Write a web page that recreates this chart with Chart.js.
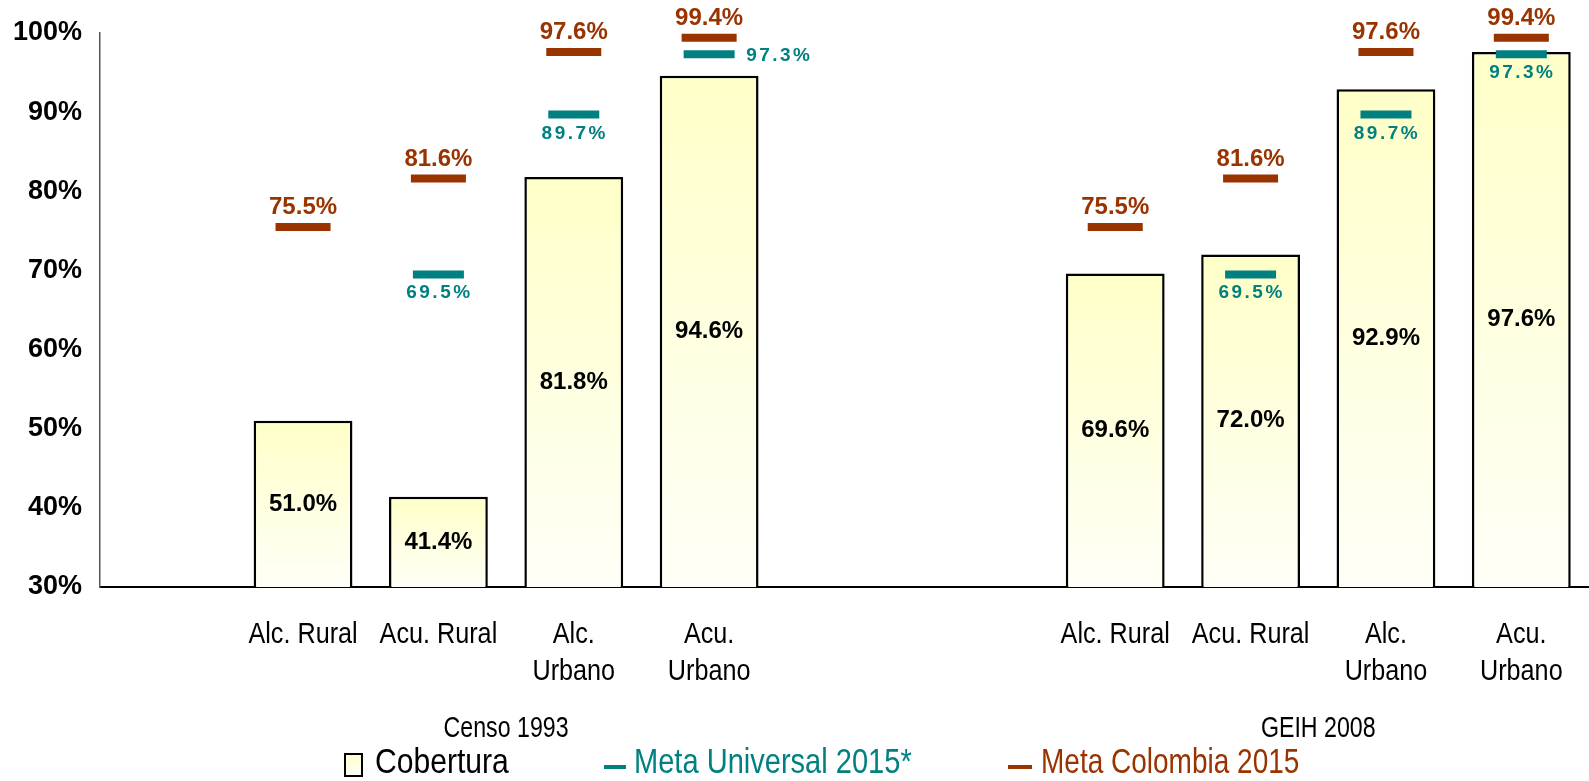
<!DOCTYPE html>
<html>
<head>
<meta charset="utf-8">
<script src="https://cdn.jsdelivr.net/npm/chart.js@4.4.0/dist/chart.umd.min.js"></script>
<style>
  html, body { margin: 0; padding: 0; background: #fff; }
  #wrap { width: 1589px; height: 781px; position: relative; }
</style>
</head>
<body>
<div id="wrap"><canvas id="chart"></canvas></div>
<script>
// categories (empty slots keep the gaps between the two groups)
var categories = ['', 'Alc. Rural', 'Acu. Rural', ['Alc.', 'Urbano'], ['Acu.', 'Urbano'], '', '',
                  'Alc. Rural', 'Acu. Rural', ['Alc.', 'Urbano'], ['Acu.', 'Urbano']];
var groups = ['Censo 1993', 'GEIH 2008'];

// series values (%)
var cobertura     = [null, 51.0, 41.4, 81.8, 94.6, null, null, 69.6, 72.0, 92.9, 97.6];
var metaUniversal = [null, null, 69.5, 89.7, 97.3, null, null, null, 69.5, 89.7, 97.3];
var metaColombia  = [null, 75.5, 81.6, 97.6, 99.4, null, null, 75.5, 81.6, 97.6, 99.4];

// y axis ticks
var yTicks = [30, 40, 50, 60, 70, 80, 90, 100];

var TEAL = '#008080';
var BROWN = '#993300';
var ARIAL = "'Liberation Sans', Arial, sans-serif";

function barGradient(ctx) {
    var chart = ctx.chart;
    if (!chart.chartArea || ctx.raw == null) return '#FFFFCC';
    var y = chart.scales.y;
    var top = y.getPixelForValue(ctx.raw);
    var bottom = y.getPixelForValue(30);
    var g = chart.ctx.createLinearGradient(0, top, 0, bottom);
    g.addColorStop(0, '#FFFFC8');
    g.addColorStop(1, '#FFFFF8');
    return g;
}

// no narrow font installed, so squeeze the regular one
function narrowText(c, txt, x, y, align, squeeze) {
    c.save();
    c.translate(x, y);
    c.scale(squeeze, 1);
    c.textAlign = align || 'center';
    c.fillText(txt, 0, 0);
    c.restore();
}

var labelPlugin = {
    id: 'labels',
    afterDatasetsDraw: function(chart) {
        var c = chart.ctx;
        var bottom = chart.scales.y.getPixelForValue(30);
        c.save();
        // bar values
        var bars = chart.getDatasetMeta(0).data;
        c.font = 'bold 24px ' + ARIAL;
        c.fillStyle = '#000';
        c.textAlign = 'center';
        c.textBaseline = 'middle';
        for (var i = 0; i < bars.length; i++) {
            if (cobertura[i] == null) continue;
            var b = bars[i];
            c.fillText(cobertura[i].toFixed(1) + '%', b.x, (b.y + bottom) / 2);
        }
        // Meta Colombia, above the marker
        var pc = chart.getDatasetMeta(2).data;
        c.fillStyle = BROWN;
        c.textBaseline = 'alphabetic';
        for (var i = 0; i < pc.length; i++) {
            if (metaColombia[i] == null) continue;
            c.fillText(metaColombia[i].toFixed(1) + '%', pc[i].x, pc[i].y - 13);
        }
        // Meta Universal, below the marker (one sits on the right)
        var pu = chart.getDatasetMeta(1).data;
        c.fillStyle = TEAL;
        c.font = 'bold 19px ' + ARIAL;
        c.letterSpacing = '2.5px';
        for (var i = 0; i < pu.length; i++) {
            if (metaUniversal[i] == null) continue;
            var txt = metaUniversal[i].toFixed(1) + '%';
            if (i === 4) {
                c.textAlign = 'left';
                c.textBaseline = 'middle';
                c.fillText(txt, pu[i].x + 37, pu[i].y + 1);
            } else {
                c.textAlign = 'center';
                c.textBaseline = 'alphabetic';
                c.fillText(txt, pu[i].x + 1, pu[i].y + 24);
            }
        }
        c.restore();
    },
    afterDraw: function(chart) {
        var c = chart.ctx;
        var x = chart.scales.x;
        c.save();
        c.fillStyle = '#000';
        c.textBaseline = 'middle';

        // category labels
        c.font = '30px ' + ARIAL;
        for (var i = 0; i < categories.length; i++) {
            var lines = [].concat(categories[i]);
            for (var k = 0; k < lines.length; k++) {
                if (lines[k]) narrowText(c, lines[k], x.getPixelForValue(i), 635 + k * 37, 'center', 0.84);
            }
        }

        // group labels
        c.font = '29px ' + ARIAL;
        narrowText(c, groups[0], (x.getPixelForValue(1) + x.getPixelForValue(4)) / 2, 729, 'center', 0.8);
        narrowText(c, groups[1], (x.getPixelForValue(7) + x.getPixelForValue(10)) / 2, 729, 'center', 0.8);

        // legend
        var ly = 763;
        var g = c.createLinearGradient(0, 753, 0, 776);
        g.addColorStop(0, '#FFFFC8');
        g.addColorStop(1, '#FFFFF8');
        c.fillStyle = g;
        c.fillRect(345, 754, 17, 22);
        c.strokeStyle = '#000';
        c.lineWidth = 2;
        c.strokeRect(345, 754, 17, 22);
        c.font = '35px ' + ARIAL;
        c.fillStyle = '#000';
        narrowText(c, 'Cobertura', 375, ly, 'left', 0.86);

        c.fillStyle = TEAL;
        c.fillRect(604, 765, 22, 4);
        narrowText(c, 'Meta Universal 2015*', 634, ly, 'left', 0.83);

        c.fillStyle = BROWN;
        c.fillRect(1008, 765, 24, 4);
        narrowText(c, 'Meta Colombia 2015', 1041, ly, 'left', 0.8);
        c.restore();
    }
};

var ctx = document.getElementById('chart').getContext('2d');
var chart = new Chart(ctx, {
    data: {
        labels: categories,
        datasets: [{
            type: 'bar',
            label: 'Cobertura',
            data: cobertura,
            backgroundColor: barGradient,
            borderColor: '#000',
            borderWidth: 2.5,
            borderSkipped: false,
            barPercentage: 0.73,
            categoryPercentage: 1,
            order: 3
        }, {
            type: 'line',
            label: 'Meta Universal 2015*',
            data: metaUniversal,
            showLine: false,
            pointStyle: 'line',
            pointRadius: 25.5,
            pointHoverRadius: 25.5,
            pointBorderWidth: 8,
            pointBorderColor: TEAL,
            borderColor: TEAL,
            clip: false,
            order: 1
        }, {
            type: 'line',
            label: 'Meta Colombia 2015',
            data: metaColombia,
            showLine: false,
            pointStyle: 'line',
            pointRadius: 27.5,
            pointHoverRadius: 27.5,
            pointBorderWidth: 8,
            pointBorderColor: BROWN,
            borderColor: BROWN,
            clip: false,
            order: 2
        }]
    },
    options: {
        responsive: true,
        maintainAspectRatio: false,
        animation: false,
        layout: { autoPadding: false, padding: { top: 33, right: 0, bottom: 0, left: 0 } },
        plugins: {
            legend: { display: false },
            tooltip: { enabled: false }
        },
        scales: {
            x: {
                offset: true,
                grid: { display: false, drawTicks: false },
                border: { display: true, color: '#000', width: 2 },
                ticks: { display: false },
                afterFit: function(s) {
                    s.height = 194;
                    s.paddingLeft = 0;
                    s.paddingRight = 0;
                }
            },
            y: {
                min: 30,
                max: 100,
                afterBuildTicks: function(s) {
                    s.ticks = yTicks.map(function(v) { return { value: v }; });
                },
                grid: { display: false, drawOnChartArea: false, drawTicks: true, tickLength: 8, tickColor: '#555' },
                border: { display: true, color: '#555', width: 1.5 },
                ticks: {
                    color: '#000',
                    font: { family: ARIAL, size: 27, weight: 'bold' },
                    padding: 10,
                    callback: function(v) { return v + '%'; }
                },
                afterFit: function(s) { s.width = 100; }
            }
        }
    },
    plugins: [labelPlugin]
});
</script>
</body>
</html>
